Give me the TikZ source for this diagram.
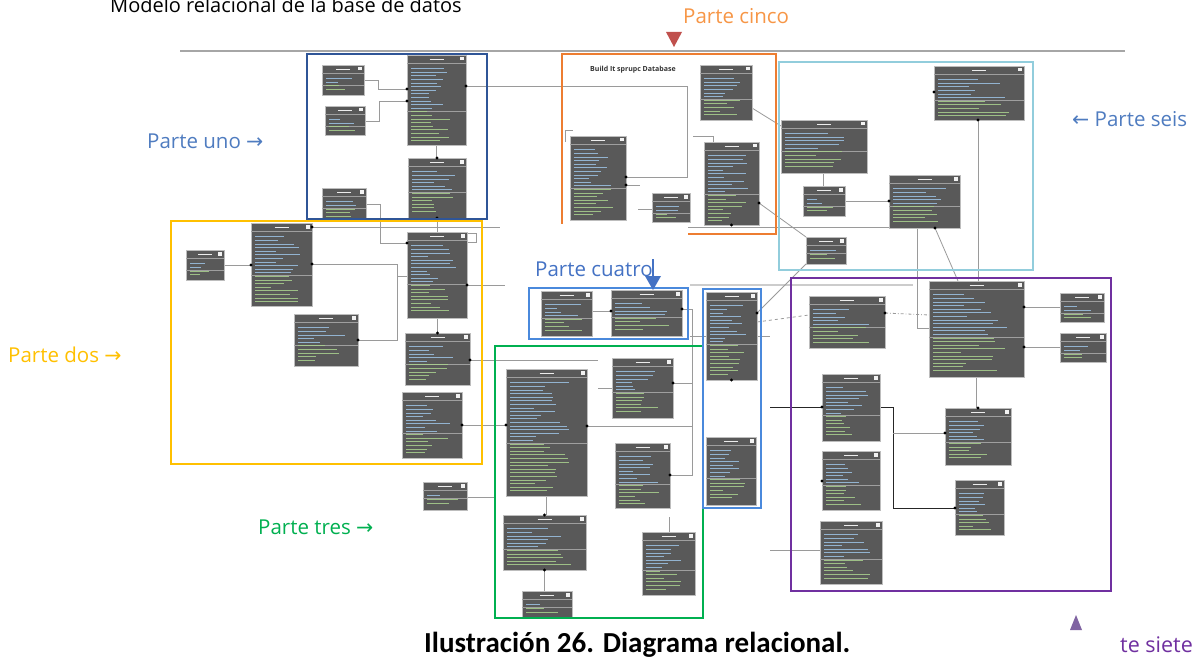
\documentclass[tikz,border=0pt]{standalone}
\usepackage{fontspec}
\setmainfont{Open Sans}
\newfontfamily\capfont{Carlito}
\newfontfamily\symfont{DejaVu Sans}
\definecolor{tblfill}{HTML}{595959}
\definecolor{tblborder}{HTML}{BDBDBD}
\definecolor{conngray}{HTML}{9A9A9A}
\definecolor{cuno}{HTML}{2F5597}
\definecolor{cdos}{HTML}{FFC000}
\definecolor{ctres}{HTML}{00B050}
\definecolor{ccuatro}{HTML}{4A89DC}
\definecolor{ccinco}{HTML}{ED7D31}
\definecolor{cseis}{HTML}{92CDDC}
\definecolor{csiete}{HTML}{7030A0}
\definecolor{rowb}{HTML}{9DC3E6}
\definecolor{rowg}{HTML}{A9D18E}
\definecolor{luno}{HTML}{4F7CC0}
\definecolor{lcinco}{HTML}{F79646}
\definecolor{tricinco}{HTML}{C0504D}
\definecolor{trisiete}{HTML}{8064A2}
\definecolor{lcuatro}{HTML}{4472C4}
\pgfdeclarelayer{back}
\pgfdeclarelayer{bg}
\pgfsetlayers{back,bg,main}
\tikzset{
  tbl/.style={draw=tblborder, line width=0.8pt, fill=tblfill, inner sep=0pt, outer sep=0pt, rectangle},
  hdrline/.style={draw=gray!75, line width=0.5pt},
  ttl/.style={draw=white!85!gray, line width=0.9pt},
  conn/.style={draw=conngray, line width=0.8pt},
  blk/.style={draw=black!85, line width=1pt},
  partbox/.style={line width=1.8pt},
  lbl/.style={font=\fontsize{20.5}{24}\selectfont, inner sep=0pt, anchor=base west},
}
\newcommand\dt[1]{\fill[black] #1 circle (1.6pt);}
\newcommand\dbt[5]{%
  \node[tbl, anchor=north west, minimum width={#4pt-#2pt}, minimum height={#5pt-#3pt}] (#1) at (#2,#3) {};
  \draw[hdrline] (#2,#3+8) -- (#4,#3+8);
  \draw[ttl] ({(#2+#4)/2-7},#3+4) -- ({(#2+#4)/2+7},#3+4);
  \fill[white!90!gray] (#4-6,#3+2) rectangle (#4-2.5,#3+5.5);
  \pgfmathtruncatemacro\nrows{(#5-#3-14)/3.6}%
  \pgfmathtruncatemacro\mrows{\nrows*0.58}%
  \draw[hdrline] (#2,{#3+11+(\mrows+0.5)*3.6}) -- (#4,{#3+11+(\mrows+0.5)*3.6});
  \foreach \i in {1,...,\nrows}{%
    \pgfmathsetmacro\yy{#3+10+\i*3.6}%
    \pgfmathsetmacro\ll{(#4-#2-10)*(0.3+0.6*rnd)}%
    \ifnum\i>\mrows\relax \def\rc{rowg}\else\def\rc{rowb}\fi
    \draw[\rc, line width=0.6pt, opacity=0.85] (#2+4,\yy) -- ++(\ll,0);
  }%
}
\begin{document}
\begin{tikzpicture}[x=1pt,y=-1pt]
\pgfmathsetseed{7}
\useasboundingbox (0,0) rectangle (1199,658);
\begin{pgfonlayer}{back}
\fill[white] (0,0) rectangle (1199,658);
\end{pgfonlayer}

% ---------- tables ----------
% parte uno
\dbt{u1}{322}{65}{364}{95}
\dbt{u2}{325}{106}{365}{135}
\dbt{u3}{407}{55}{466}{145}
\dbt{u4}{408}{158}{466}{218}
\dbt{u5}{322}{188}{366}{220}
% parte dos
\dbt{d1}{186}{250}{224}{280}
\dbt{d2}{251}{223}{312}{306}
\dbt{d3}{294}{314}{358}{366}
\dbt{d4}{407}{232}{467}{318}
\dbt{d5}{405}{333}{470}{385}
\dbt{d6}{402}{392}{462}{458}
% parte tres
\dbt{t1}{506}{369}{587}{496}
\dbt{t2}{612}{358}{673}{418}
\dbt{t3}{615}{443}{670}{508}
\dbt{t4}{503}{515}{586}{570}
\dbt{t5}{522}{591}{572}{617}
\dbt{t6}{642}{532}{695}{595}
\dbt{t7}{423}{482}{467}{510}
% parte cuatro
\dbt{c1}{541}{291}{592}{336}
\dbt{c2}{611}{290}{682}{336}
\dbt{k1}{706}{292}{757}{380}
\dbt{k2}{706}{437}{756}{505}
% parte cinco
\dbt{f1}{700}{65}{752}{120}
\dbt{f2}{570}{136}{626}{220}
\dbt{f3}{704}{142}{759}{225}
\dbt{f4}{652}{193}{690}{222}
% parte seis
\dbt{s1}{934}{66}{1024}{120}
\dbt{s2}{781}{120}{867}{173}
\dbt{s3}{803}{186}{845}{216}
\dbt{s4}{889}{175}{960}{228}
\dbt{s5}{806}{237}{846}{264}
% parte siete
\dbt{v1}{929}{281}{1024}{377}
\dbt{v2}{809}{296}{885}{348}
\dbt{v3}{1060}{293}{1104}{322}
\dbt{v4}{1060}{333}{1106}{362}
\dbt{v5}{822}{374}{880}{441}
\dbt{v6}{945}{408}{1011}{465}
\dbt{v7}{822}{451}{880}{510}
\dbt{v8}{955}{480}{1004}{535}
\dbt{v9}{820}{521}{882}{584}

% ---------- connectors (behind) ----------
\begin{pgfonlayer}{bg}
\draw[draw=gray!70, line width=1.5pt] (180,51) -- (1125,51);
\draw[draw=gray!40, line width=1.5pt] (690,285) -- (913,285);
\coordinate (e1) at (500,227);
\coordinate (e2) at (505,285);
\coordinate (e3) at (598,360);
\draw[conn] (u1.east |- 0,80) -| (378,89) -- (u3.west |- 0,89);
\draw[conn] (u2.east |- 0,121) -| (379,101) -- (u3.west |- 0,101);
\draw[conn] (u3.south) -- (u3.south |- u4.north);
\draw[conn] (u3.east |- 0,86) -| (687,177) -- (f2.east |- 0,177);
\draw[conn] (u4.south) -- (u4.south |- d4.north);
\draw[conn] (u5.east |- 0,204) -| (380,243) -- (d4.west |- 0,243);
\draw[conn] (d2.east |- 0,227) -- (e1);
\draw[conn] (d1.east |- 0,265) -- (d2.west |- 0,265);
\draw[conn] (d3.east |- 0,340) -| (397,264) -- (d2.east |- 0,264);
\draw[conn] (397,276) -- (d4.west |- 0,276);
\draw[conn] (d4.east |- 0,233) -| (476,242) -- (d4.east |- 0,242);
\draw[conn] (d4.south) -- (d4.south |- d5.north);
\draw[conn] (d4.east |- 0,285) -- (e2);
\draw[conn] (d5.east |- 0,360) -- (e3);
\draw[conn] (d6.east |- 0,425) -- (t1.west |- 0,425);
\draw[conn] (t1.east |- 0,426) -- (692,426);
\draw[conn] (c2.east |- 0,309) -| (692,475) -- (t3.east |- 0,475);
\draw[conn] (t2.east |- 0,383) -- (692,383);
\draw[conn] (598,388) -- (t2.west |- 0,388);
\draw[conn] (t1.south) -- (t1.south |- t4.north);
\draw[conn] (t4.south) -- (t4.south |- t5.north);
\draw[conn] (669,517) -- (t6.north -| 669,0);
\draw[conn] (t7.east |- 0,497) -- (495,497);
\draw[conn] (c1.east |- 0,311) -- (c2.west |- 0,311);
\draw[conn] (690,336) -- (770,336);
\draw[conn] (688,227) -- (917,227) -- (917,328) -- (v1.west |- 0,328);
\draw[conn] (k1.east |- 0,313) -- (s5.south west);
\draw[conn, dashed] (k1.east |- 0,322) -- (v2.west |- 0,315);
\draw[blk] (770,407) -- (v5.west |- 0,407);
\draw[blk] (v5.east |- 0,407) -| (893,508) -- (v8.west |- 0,508);
\draw[conn] (893,433) -- (v6.west |- 0,433);
\draw[conn, dash dot] (v2.east |- 0,313) -- (v1.west |- 0,315);
\draw[conn] (s1.south -| 978,0) -- (v1.north -| 978,0);
\draw[conn] (s4.south -| 935,0) -- (v1.north -| 958,0);
\draw[conn] (s2.south -| 823,0) -- (s3.north -| 823,0);
\draw[conn] (s3.east |- 0,201) -- (s4.west |- 0,201);
\draw[conn] (f1.east |- 0,108) -- (s2.west |- 0,126);
\draw[conn] (f3.east |- 0,203) -- (s5.north west);
\draw[conn] (v3.west |- 0,307) -- (v1.east |- 0,307);
\draw[conn] (v4.west |- 0,347) -- (v1.east |- 0,347);
\draw[conn] (v1.south) -- (v1.south |- v6.north);
\draw[conn] (770,550) -- (v9.west |- 0,550);
\draw[conn] (638,209) -- (f4.west |- 0,209);
\draw[conn] (f2.east |- 0,185) -- (640,185);
\draw[conn] (693,136) -| (f3.north -| 713,0);
\draw[conn] (565,142) |- (573,130);
\end{pgfonlayer}

% ---------- dots ----------
\dt{(u3.west |- 0,89)} \dt{(u3.west |- 0,101)} \dt{(u3.east |- 0,86)}
\dt{(u4.north)} \dt{(u4.south)} \dt{(f2.east |- 0,177)} \dt{(f2.east |- 0,185)}
\dt{(d4.west |- 0,243)} \dt{(d2.east |- 0,227)} \dt{(d2.west |- 0,265)}
\dt{(d2.east |- 0,264)} \dt{(d5.north)} \dt{(d4.east |- 0,285)} \dt{(d5.east |- 0,360)}
\dt{(d3.east |- 0,340)} \dt{(d6.east |- 0,425)}
\dt{(t1.west |- 0,425)} \dt{(t1.east |- 0,426)} \dt{(c2.east |- 0,309)}
\dt{(t2.east |- 0,383)} \dt{(t3.east |- 0,475)} \dt{(t4.north)} \dt{(t4.south)}
\dt{(c2.west |- 0,311)} \dt{(k1.east |- 0,313)} \dt{(k1.south)}
\dt{(v5.west |- 0,407)} \dt{(v8.west |- 0,508)} \dt{(v6.west |- 0,433)}
\dt{(v2.east |- 0,313)} \dt{(s1.south -| 978,0)} \dt{(s1.west |- 0,92)}
\dt{(s4.south -| 935,0)} \dt{(s4.west |- 0,201)} \dt{(f3.east |- 0,203)}
\dt{(f3.south)} \dt{(v1.east |- 0,307)} \dt{(v1.east |- 0,347)} \dt{(v6.north)}
\dt{(v7.west |- 0,481)}

% ---------- part boxes ----------
\draw[partbox, draw=cuno, line width=1.2pt] (307,54) rectangle (487,219);
\draw[partbox, draw=cdos] (171,221) rectangle (482,464);
\draw[partbox, draw=ctres] (495,346) rectangle (703,618);
\draw[partbox, draw=ccuatro] (529,288) rectangle (688,339);
\draw[partbox, draw=ccuatro] (703,289) rectangle (761,508);
\draw[partbox, draw=ccinco] (688,234) -- (776,234) -- (776,54) -- (562,54) -- (562,224);
\draw[partbox, draw=cseis] (779,62) rectangle (1033,270);
\draw[partbox, draw=csiete] (791,278) rectangle (1111,591);

% ---------- labels ----------
\node[anchor=base west, inner sep=0pt, font=\fontsize{7}{8}\selectfont\bfseries, text=black!80] (bld) at (590,72) {Build It sprupc Database};
\node[anchor=base west, inner sep=0pt, font=\fontsize{20}{24}\selectfont] (title) at (110,13) {Modelo relacional de la base de datos};
\node[lbl, text=lcinco] (lcin) at (683,24) {Parte cinco};
\fill[tricinco] (666,32) -- (682,32) -- (674,47) -- cycle;
\node[lbl, text=luno] (luno) at (147,149) {Parte uno {\symfont →}};
\node[lbl, text=luno] (lseis) at (1072,127) {{\symfont ←} Parte seis};
\node[lbl, text=cdos] (ldos) at (8,362) {Parte dos {\symfont →}};
\node[lbl, text=ctres] (ltres) at (258,534) {Parte tres {\symfont →}};
\node[lbl, text=lcuatro] (lcua) at (535,276) {Parte cuatro};
\draw[draw=lcuatro, line width=1.6pt] (653,259) -- (653,277);
\fill[lcuatro] (645,276) -- (661,276) -- (653,290) -- cycle;
\fill[trisiete] (1070,630) -- (1082,630) -- (1076,615) -- cycle;
\node[lbl, text=csiete, font=\fontsize{21.5}{24}\selectfont] (lsie) at (1120,652) {te siete};
\node[anchor=base west, inner sep=0pt, font=\capfont\bfseries\fontsize{29}{32}\selectfont] (cap) at (424,652) {Ilustración 26. Diagrama relacional.};
\end{tikzpicture}
\end{document}
